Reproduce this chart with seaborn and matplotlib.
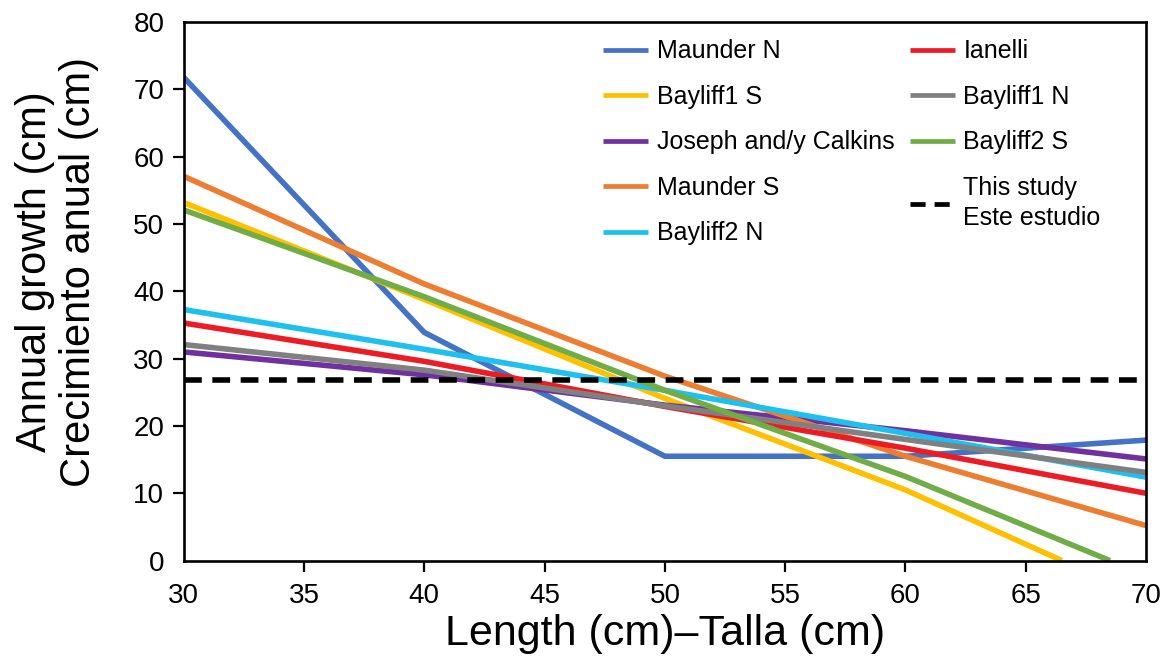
import pandas as pd
import seaborn as sns
import matplotlib.pyplot as plt

# Datos (talla en cm, crecimiento anual en cm)
talla = [30, 40, 50, 60, 70]

maunder_n = [71.8, 33.9, 15.5, 15.5, 17.9]
maunder_s = [57.1, 41.1, 27.4, 15.5, 5.2]
bayliff1_n = [32.1, 28.3, 23.0, 18.0, 13.1]
bayliff2_n = [37.3, 31.4, 25.3, 18.9, 12.4]
ianelli = [35.3, 29.6, 22.9, 16.7, 10.0]
joseph = [31.0, 27.6, 23.1, 19.3, 15.1]

# estas dos llegan a cero antes de 70
talla_b1s = [30, 40, 50, 60, 66.5]
bayliff1_s = [53.2, 38.8, 24.1, 10.5, 0.0]
talla_b2s = [30, 40, 50, 60, 68.5]
bayliff2_s = [52.1, 39.2, 25.3, 12.5, 0.0]

este_estudio = 26.9

series = [
    ('Maunder N', talla, maunder_n, '#4472C4'),
    ('Bayliff1 S', talla_b1s, bayliff1_s, '#FFC000'),
    ('Joseph and/y Calkins', talla, joseph, '#7030A0'),
    ('Maunder S', talla, maunder_s, '#ED7D31'),
    ('Bayliff2 N', talla, bayliff2_n, '#1EC0EE'),
    ('Ianelli', talla, ianelli, '#ED1C24'),
    ('Bayliff1 N', talla, bayliff1_n, '#808080'),
    ('Bayliff2 S', talla_b2s, bayliff2_s, '#70AD47'),
]

sns.set_style('ticks')
plt.rcParams['font.family'] = ['Liberation Sans', 'DejaVu Sans']
plt.rcParams['text.color'] = 'black'
plt.rcParams['axes.labelcolor'] = 'black'
plt.rcParams['xtick.color'] = 'black'
plt.rcParams['ytick.color'] = 'black'

fig = plt.figure(figsize=(11.71, 6.72), dpi=100)
ax = fig.add_axes([0.1569, 0.1658, 0.8218, 0.8012])

for nombre, xs, ys, color in series:
    df = pd.DataFrame({'talla': xs, 'crec': ys})
    sns.lineplot(data=df, x='talla', y='crec', ax=ax, color=color,
                 linewidth=4, label=nombre, solid_capstyle='butt')

df_est = pd.DataFrame({'talla': [30, 70], 'crec': [este_estudio, este_estudio]})
sns.lineplot(data=df_est, x='talla', y='crec', ax=ax, color='black',
             linewidth=4, label='This study\nEste estudio')
ax.lines[-1].set_dashes([3.2, 1.9])

ax.set_xlim(30, 70)
ax.set_ylim(0, 80)
ax.set_xticks(range(30, 71, 5))
ax.set_yticks(range(0, 81, 10))

for s in ax.spines.values():
    s.set_linewidth(1.9)
    s.set_color('black')
ax.tick_params(axis='both', direction='out', length=8, width=1.6,
               labelsize=20, pad=6)
ax.tick_params(axis='x', pad=8)
for t in [ax.xaxis.get_major_ticks()[0], ax.xaxis.get_major_ticks()[-1],
          ax.yaxis.get_major_ticks()[0], ax.yaxis.get_major_ticks()[-1]]:
    t.tick1line.set_visible(False)

ax.set_xlabel('Length (cm)\u2013Talla (cm)', fontsize=31, labelpad=4)
ax.set_ylabel('Annual growth (cm)\nCrecimiento anual (cm)', fontsize=30,
              linespacing=1.12)
ax.yaxis.set_label_coords(-0.088, 0.536)

leg = ax.legend(ncol=2, loc='upper left', bbox_to_anchor=(0.436, 0.968),
                frameon=False, fontsize=18, handlelength=1.8,
                handletextpad=0.35, columnspacing=0.6, labelspacing=0.86,
                borderaxespad=0, borderpad=0)
for txt in leg.get_texts():
    txt.set_linespacing(1.3)
for h in leg.get_lines():
    h.set_linewidth(3.4)

plt.savefig('out.png', dpi=100)
plt.close()
